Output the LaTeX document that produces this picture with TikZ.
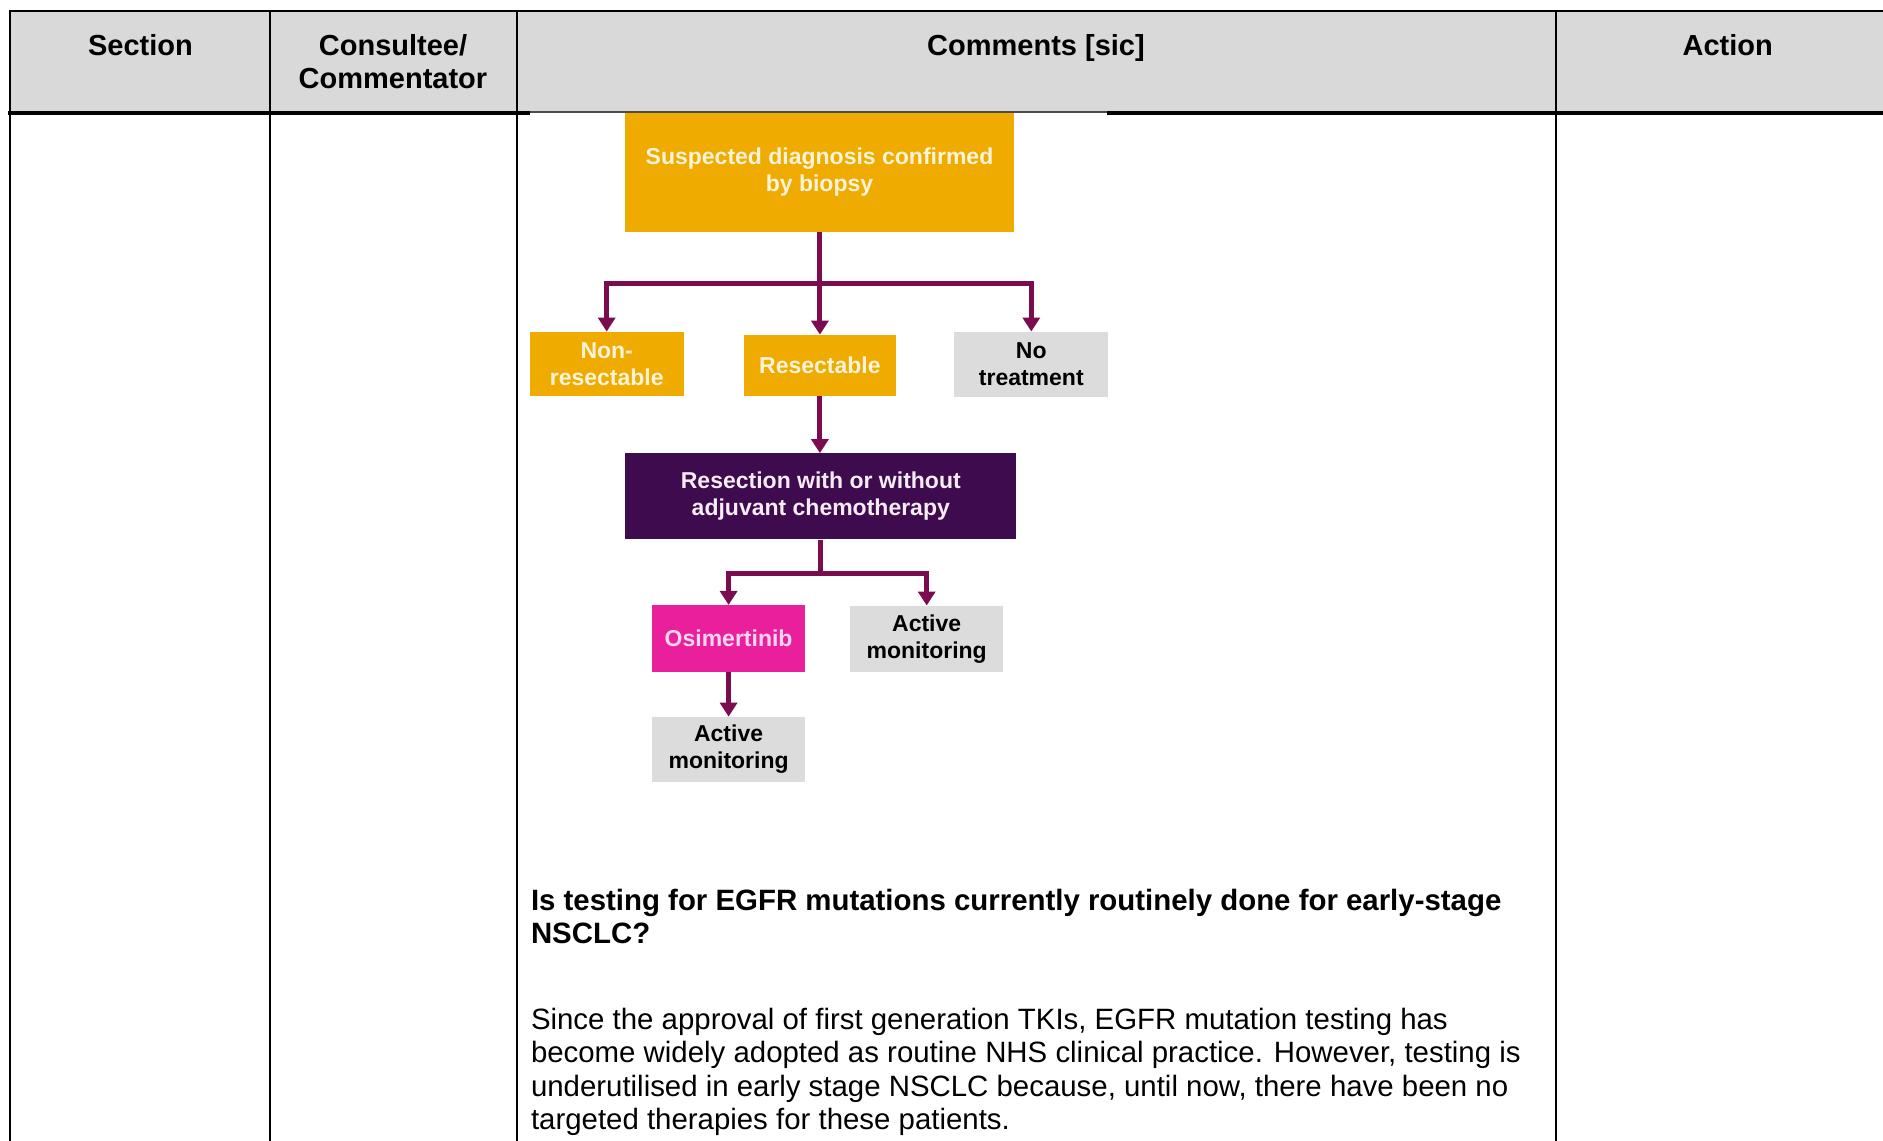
\documentclass[tikz,border=0pt]{standalone}
\usepackage{fontspec}
\setmainfont{Liberation Sans}
\usetikzlibrary{arrows.meta}
\definecolor{hdr}{HTML}{D9D9D9}
\definecolor{gold}{HTML}{F0AB00}
\definecolor{plum}{HTML}{3E0B4E}
\definecolor{mag}{HTML}{EA1F9C}
\definecolor{boxgray}{HTML}{DCDCDC}
\definecolor{arrc}{HTML}{7B0C50}
\definecolor{cream}{HTML}{FFF4DA}
\definecolor{pinktext}{HTML}{FCD6EE}
\definecolor{plumtext}{HTML}{F6ECF4}
\begin{document}
\begin{tikzpicture}[x=1pt,y=-1pt,
  hdrtext/.style={font=\fontsize{29}{33.5}\selectfont\bfseries, inner sep=0, anchor=base},
  bodyline/.style={font=\fontsize{29.4}{33.5}\selectfont, inner sep=0, anchor=base west},
  fbox/.style={inner sep=0, align=center, font=\fontsize{23}{27}\selectfont\bfseries},
  goldbox/.style={fbox, fill=gold, text=cream},
  graybox/.style={fbox, fill=boxgray, text=black},
  conn/.style={draw=arrc, line width=5pt},
  arr/.style={conn, -{Triangle[width=17pt,length=14pt]}},
  tline/.style={line width=2pt, draw=black},
]
\useasboundingbox (0,0) rectangle (1883,1141);
% header background
\fill[hdr] (10.3,11) rectangle (1883,112.9);
% table lines
\draw[tline] (9.3,11) -- (1883,11);
\foreach \xx in {10.3,270.2,516.9,1555.7}{\draw[tline] (\xx,10) -- (\xx,1141);}
\draw[line width=4pt] (8.3,112.9) -- (530,112.9);
\draw[line width=4pt] (1107,112.9) -- (1883,112.9);
% header texts
\node[hdrtext] (h1) at (140.5,55) {Section};
\node[hdrtext] (h2a) at (393,55) {Consultee/};
\node[hdrtext] (h2b) at (393,88.5) {Commentator};
\node[hdrtext] (h3) at (1036,55) {Comments [sic]};
\node[hdrtext] (h4) at (1727.7,55) {Action};
% flowchart image background
\fill[white] (530,114.9) rectangle (1107,800);
% flowchart boxes
\node[goldbox, minimum width=388.5pt, minimum height=119pt] (top) at (819.5,172.3) {Suspected diagnosis confirmed\\by biopsy};
\node[goldbox, minimum width=154.2pt, minimum height=64.3pt] (nonres) at (606.7,363.9) {Non-\\resectable};
\node[goldbox, minimum width=151.9pt, minimum height=61.3pt] (res) at (819.9,365.5) {Resectable};
\node[graybox, minimum width=153.8pt, minimum height=65pt] (nt) at (1031.3,364.2) {No\\treatment};
\node[fbox, fill=plum, text=plumtext, minimum width=391.2pt, minimum height=86pt] (resec) at (820.8,496.3) {Resection with or without\\adjuvant chemotherapy};
\node[fbox, fill=mag, text=pinktext, minimum width=153.3pt, minimum height=67pt] (osi) at (728.6,638.6) {Osimertinib};
\node[graybox, minimum width=153.5pt, minimum height=66.6pt] (am1) at (926.7,639) {Active\\monitoring};
\node[graybox, minimum width=153.3pt, minimum height=65pt] (am2) at (728.6,749.3) {Active\\monitoring};
% thin line over image top
\draw[line width=1.5pt, draw=black!70] (530,112.2) -- (1107,112.2);
% connectors
\path (top.south) ++(0,51) coordinate (j1);
\draw[conn] (top.south) -- (j1);
\draw[arr] (j1) -| (nonres.north);
\draw[arr] (j1) -| (nt.north);
\draw[arr] (j1 -| res.north) -- (res.north);
\draw[arr] (res.south) -- (res.south |- resec.north);
\path (resec.south) ++(0,34) coordinate (j2);
\draw[conn] (resec.south) -- (j2);
\draw[arr] (j2) -| (osi.north);
\draw[arr] (j2) -| (am1.north);
\draw[arr] (osi.south) -- (am2.north);
% body text
\node[bodyline, font=\fontsize{29.4}{33.5}\selectfont\bfseries] (q1) at (530.8,910.7) {Is testing for EGFR mutations currently routinely done for early-stage};
\node[bodyline, font=\fontsize{29.4}{33.5}\selectfont\bfseries] (q2) at (530.8,943.3) {NSCLC?};
\node[bodyline] (p1) at (530.8,1029.3) {Since the approval of first generation TKIs, EGFR mutation testing has};
\node[bodyline] (p2) at (530.8,1062.7) {become widely adopted as routine NHS clinical practice. However, testing is};
\node[bodyline] (p3) at (530.8,1096) {underutilised in early stage NSCLC because, until now, there have been no};
\node[bodyline] (p4) at (530.8,1129.3) {targeted therapies for these patients.};
\end{tikzpicture}
\end{document}
